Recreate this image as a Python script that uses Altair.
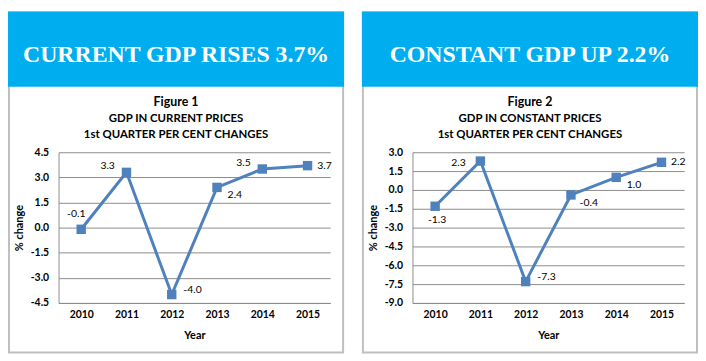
import altair as alt
import pandas as pd

years = ["2010", "2011", "2012", "2013", "2014", "2015"]
current_change = [-0.1, 3.3, -4.0, 2.4, 3.5, 3.7]
constant_change = [-1.3, 2.3, -7.3, -0.4, 1.0, 2.2]
current_label_place = ["above-left", "left", "right-up", "right-down", "left", "right"]
constant_label_place = ["below", "left-level", "right-up", "right-down", "right-down", "right"]

headers = ["CURRENT GDP RISES 3.7%", "CONSTANT GDP UP 2.2%"]
figure_titles = [
    ["Figure 1", "GDP IN CURRENT PRICES", "1st QUARTER PER CENT CHANGES"],
    ["Figure 2", "GDP IN CONSTANT PRICES", "1st QUARTER PER CENT CHANGES"],
]
y_domains = [[-4.5, 4.5], [-9.0, 3.0]]
y_ticks = [
    [-4.5, -3.0, -1.5, 0.0, 1.5, 3.0, 4.5],
    [-9.0, -7.5, -6.0, -4.5, -3.0, -1.5, 0.0, 1.5, 3.0],
]

# label offset styles (pixels)
OFFSETS = {
    "above-left": (-5, -15),
    "left": (-19, -6),
    "right-up": (21, -5),
    "right-down": (18, 8),
    "right": (17, 0),
    "below": (2, 14),
    "left-level": (-22, 2),
}

W, H = 274, 152
BLUE = "#00AEEF"
LINE = "#4F81BD"
FONT = "Lato"
HYPHEN = "replace(datum.label, '\u2212', '-')"


def panel(idx, values, places):
    df = pd.DataFrame({"year": years, "value": values, "place": places})
    base = alt.Chart(df).transform_calculate(
        lbl="replace(format(datum.value, '.1f'), '\u2212', '-')")
    x = alt.X("year:O", scale=alt.Scale(type="point", padding=0.5),
              axis=alt.Axis(title="Year", labelAngle=0, grid=False, ticks=False,
                            labelPadding=7, titlePadding=9, domainColor="#8C8C8C",
                            labelFontSize=10.5, labelFont=FONT, titleFont=FONT,
                            titleFontSize=11, titleFontWeight="bold",
                            labelFontWeight="bold", labelColor="#000", titleColor="#000"))
    y = alt.Y("value:Q", scale=alt.Scale(domain=y_domains[idx], nice=False, zero=False),
              axis=alt.Axis(title="%  change", values=y_ticks[idx], format=".1f",
                            labelExpr=HYPHEN,
                            ticks=False, labelPadding=10, titlePadding=6,
                            gridColor="#8C8C8C", domainColor="#8C8C8C",
                            labelFontSize=10.5, labelFont=FONT, titleFont=FONT,
                            titleFontSize=11, titleFontWeight="bold",
                            labelFontWeight="bold", labelColor="#000", titleColor="#000"))

    one = alt.Data(values=[{}])
    border = alt.Chart(one).mark_rect(filled=False, stroke="#BFBFBF", strokeWidth=2).encode(
        x=alt.value(-50), x2=alt.value(287), y=alt.value(-141), y2=alt.value(202))
    header_box = alt.Chart(one).mark_rect(fill=BLUE).encode(
        x=alt.value(-51), x2=alt.value(288), y=alt.value(-142), y2=alt.value(-66))
    header_text = alt.Chart(one).mark_text(
        text=headers[idx], font="Liberation Serif", fontWeight="bold", fontSize=24,
        color="white", align="center", baseline="middle").encode(
        x=alt.value(118.5), y=alt.value(-98))
    title_layers = []
    for k, (t, yy) in enumerate(zip(figure_titles[idx], [-51, -34, -17])):
        title_layers.append(
            alt.Chart(one).mark_text(text=t, font=FONT, fontWeight="bold",
                                     fontSize=12.5 if k == 0 else 11.5, color="#000",
                                     align="center", baseline="middle").encode(
                x=alt.value(118.5), y=alt.value(yy)))

    line = base.mark_line(color=LINE, strokeWidth=3).encode(x=x, y=y)
    pts = base.mark_square(color=LINE, size=90, opacity=1).encode(x=x, y=y)
    labels = []
    for name, (dx, dy) in OFFSETS.items():
        if name in places:
            labels.append(
                base.transform_filter(alt.datum.place == name).mark_text(
                    dx=dx, dy=dy, font=FONT, fontSize=10.5, color="#000",
                    align="center", baseline="middle").encode(
                    x=x, y=y, text="lbl:N"))

    return alt.layer(border, header_box, header_text, *title_layers, line, pts, *labels).properties(
        width=W, height=H)


chart = alt.hconcat(
    panel(0, current_change, current_label_place),
    panel(1, constant_change, constant_label_place),
    spacing=18,
).resolve_scale(x="independent", y="independent").properties(
    padding={"top": 2, "left": 0, "right": 0, "bottom": 0}
).configure_view(stroke=None)

chart.save("out.html", embed_options={"renderer": "svg", "actions": False})
